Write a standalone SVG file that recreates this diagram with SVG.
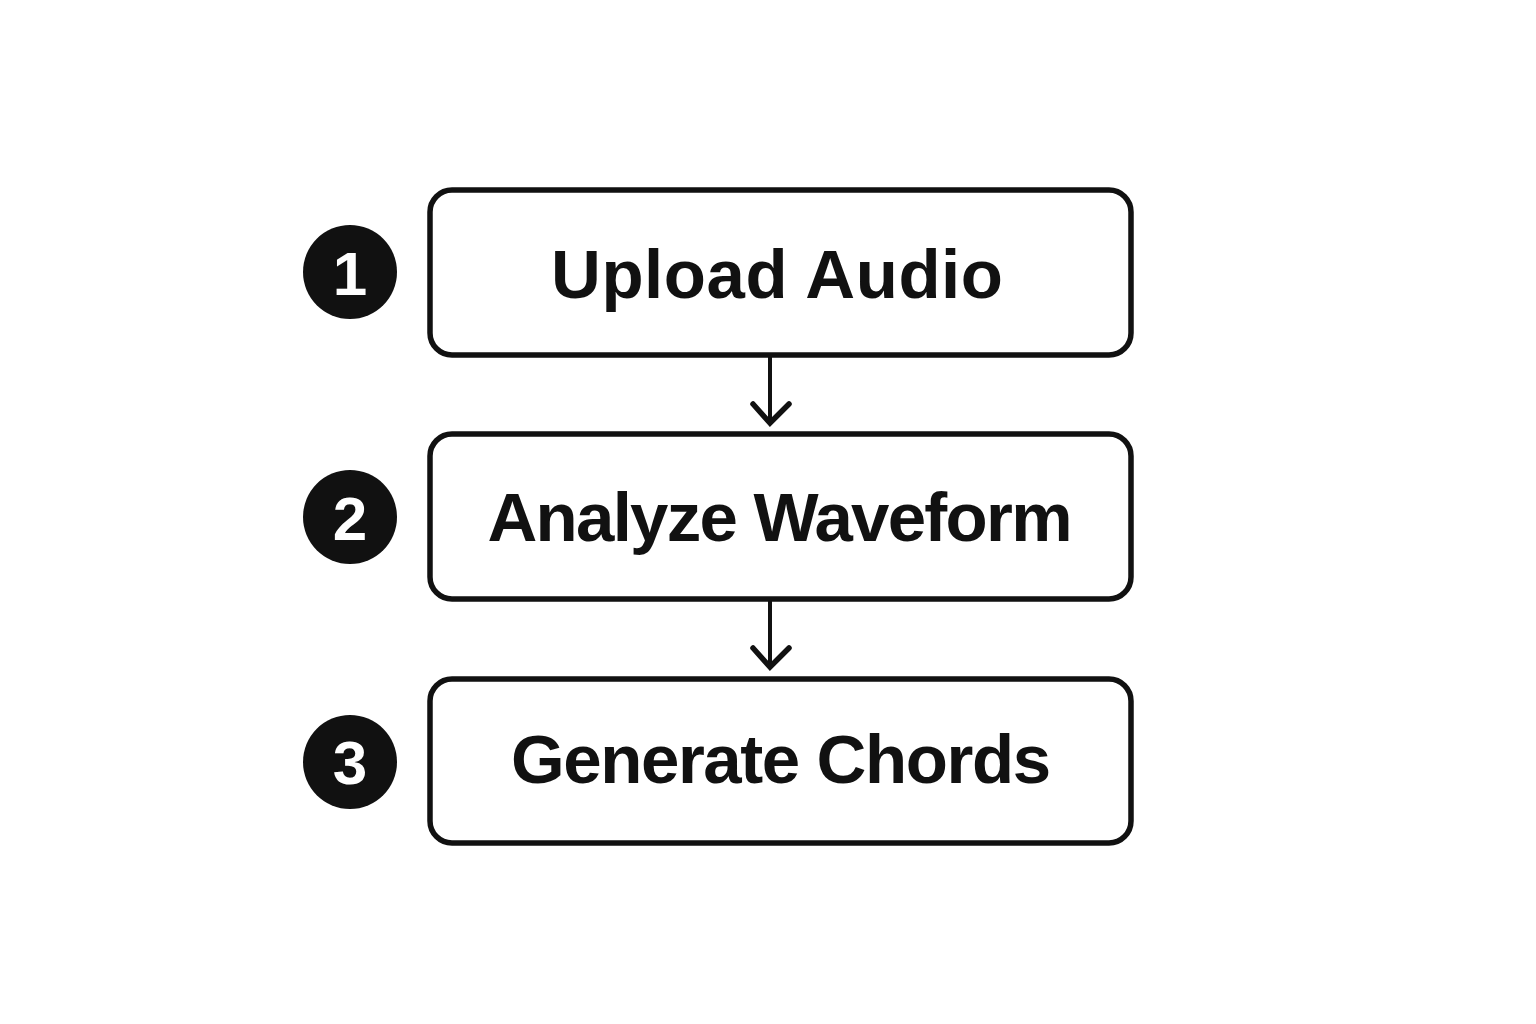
<svg xmlns="http://www.w3.org/2000/svg" width="1536" height="1024" viewBox="0 0 1536 1024">
<style>
.box{fill:#fff;stroke:#111;stroke-width:5.5}
.lbl{font-family:"Liberation Sans",Arial,sans-serif;font-weight:700;font-size:69px;fill:#111;text-anchor:middle}
.num{font-family:"Liberation Sans",Arial,sans-serif;font-weight:700;font-size:62px;fill:#fff;text-anchor:middle}
.badge{fill:#111}
.conn{stroke:#111;stroke-width:4;fill:none}
.head{stroke:#111;stroke-width:5.5;fill:none;stroke-linecap:round;stroke-linejoin:miter}
</style>
<rect width="1536" height="1024" fill="#fff"/>
<g id="connectors">
<line class="conn" x1="770" y1="355" x2="770" y2="424"/>
<polyline class="head" points="753,404 770,423 789,404"/>
<line class="conn" x1="770" y1="600" x2="770" y2="668"/>
<polyline class="head" points="753,648 770,667 789,648"/>
</g>
<g id="node1">
<rect class="box" x="430" y="190" width="701" height="165" rx="22"/>
<text class="lbl" x="777" y="298" textLength="452" lengthAdjust="spacing">Upload Audio</text>
</g>
<g id="node2">
<rect class="box" x="430" y="434" width="701" height="165" rx="22"/>
<text class="lbl" x="780" y="541" textLength="585" lengthAdjust="spacing">Analyze Waveform</text>
</g>
<g id="node3">
<rect class="box" x="430" y="679" width="701" height="164" rx="22"/>
<text class="lbl" x="781" y="783" textLength="540" lengthAdjust="spacing">Generate Chords</text>
</g>
<g id="badge1">
<circle class="badge" cx="350" cy="272" r="47"/>
<text class="num" x="350" y="295">1</text>
</g>
<g id="badge2">
<circle class="badge" cx="350" cy="517" r="47"/>
<text class="num" x="350" y="540">2</text>
</g>
<g id="badge3">
<circle class="badge" cx="350" cy="762" r="47"/>
<text class="num" x="350" y="784">3</text>
</g>
</svg>
